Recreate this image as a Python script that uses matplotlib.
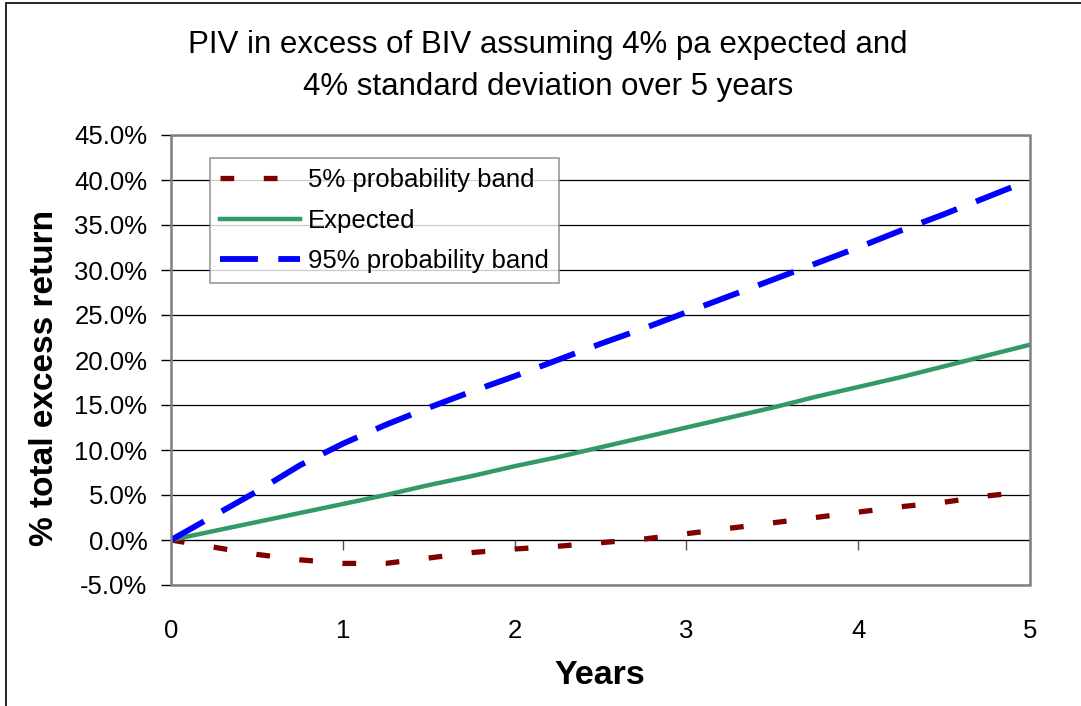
import matplotlib
matplotlib.use("Agg")
import matplotlib.pyplot as plt
from matplotlib.patches import Rectangle
from matplotlib.ticker import FuncFormatter

plt.rcParams['font.family'] = ['Liberation Sans', 'DejaVu Sans']

# data (% total excess return)
years = [0, 0.25, 0.5, 0.75, 1, 1.25, 1.5, 1.75, 2, 2.25, 2.5,
         2.75, 3, 3.25, 3.5, 3.75, 4, 4.25, 4.5, 4.75, 5]
band_5 = [0.0, -0.8, -1.6, -2.2, -2.6, -2.6, -2.0, -1.4, -1.0, -0.7, -0.3,
          0.1, 0.7, 1.3, 1.9, 2.5, 3.1, 3.7, 4.2, 4.9, 5.4]
expected = [0.0, 1.0, 2.0, 3.0, 4.0, 5.0, 6.1, 7.1, 8.2, 9.2, 10.3,
            11.4, 12.5, 13.6, 14.7, 15.9, 17.0, 18.1, 19.3, 20.5, 21.7]
band_95 = [0.0, 2.7, 5.4, 8.3, 10.7, 12.8, 14.7, 16.5, 18.2, 20.0, 21.8,
           23.5, 25.3, 27.1, 28.9, 30.7, 32.5, 34.4, 36.2, 38.1, 40.0]

fig = plt.figure(figsize=(10.81, 7.06), dpi=100)
ax = fig.add_axes([171 / 1081, 1 - 585 / 706, 859 / 1081, 450 / 706])

# outer chart border
fig.patches.append(Rectangle((6 / 1081, -0.01), 1.1, 1 - 3 / 706 + 0.01,
                             transform=fig.transFigure, fill=False,
                             edgecolor='black', linewidth=1.2))

ax.plot(years, band_5, color='#800000', linewidth=3.8, dashes=(2.6, 5.6),
        label='5% probability band', zorder=3)
ax.plot(years, expected, color='#339966', linewidth=3.2,
        label='Expected', zorder=3)
ax.plot(years, band_95, color='#0000FF', linewidth=4.2, dashes=(6.5, 3.5),
        label='95% probability band', zorder=3)

ax.set_xlim(0, 5)
ax.set_ylim(-5, 45)
ax.set_yticks(range(-5, 50, 5))
ax.set_xticks(range(0, 6))
ax.yaxis.set_major_formatter(FuncFormatter(lambda v, p: f'{v:.1f}%'))
ax.grid(axis='y', color='black', linewidth=0.9)
ax.set_axisbelow(True)

for s in ['top', 'right']:
    ax.spines[s].set_visible(False)
ax.spines['left'].set_color('#333333')
ax.spines['bottom'].set_position(('data', 0))
ax.spines['bottom'].set_color('black')
ax.add_patch(Rectangle((0, 0), 1, 1, transform=ax.transAxes, fill=False,
                       edgecolor='#808080', linewidth=1.8, zorder=4,
                       clip_on=False))

ax.tick_params(axis='y', direction='out', length=7, width=1, pad=10,
               labelsize=18.5)
ax.tick_params(axis='x', direction='out', length=7, width=1, pad=50,
               labelsize=18.5, color='#555555')

fig.text(45 / 1081, 1 - 378 / 706, '% total excess return', fontsize=24,
         fontweight='bold', rotation=90, ha='center', va='center')
fig.text(600 / 1081, 1 - 676 / 706, 'Years',
         fontsize=24.5, fontweight='bold', ha='center', va='center')

fig.text(548 / 1081, 1 - 45 / 706, 'PIV in excess of BIV assuming 4% pa expected and',
         fontsize=22.5, ha='center', va='center')
fig.text(548 / 1081, 1 - 87 / 706, '4% standard deviation over 5 years',
         fontsize=22.5, ha='center', va='center')

leg = ax.legend(loc='upper left', bbox_to_anchor=(39 / 859, 427 / 450),
                fontsize=18.5, frameon=True, fancybox=False, handlelength=3.1,
                handletextpad=0.3, borderpad=0.4, labelspacing=0.64,
                borderaxespad=0)
leg.get_frame().set_edgecolor('#808080')
leg.get_frame().set_linewidth(1.2)

fig.savefig('out.png', dpi=100)
